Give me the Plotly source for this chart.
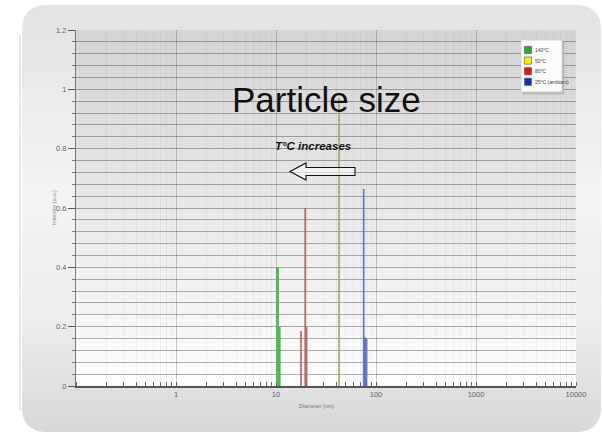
import numpy as np
import plotly.graph_objects as go

W, H = 602, 434

# Peak positions (nm) and scattered intensities (a.u.) per temperature
d_140 = [10.2, 10.5, 10.9]
i_140 = [0.40, 0.40, 0.20]
d_50 = [42.7]
i_50 = [0.97]
d_80 = [17.8, 19.6, 20.2]
i_80 = [0.185, 0.60, 0.20]
d_25 = [75.3, 76.5, 78.5, 80.5]
i_25 = [0.664, 0.165, 0.163, 0.158]

series_names = ["140°C", "50°C", "80°C", "25°C (ambiant)"]
line_colors = ["#4fb64f", "#aaa85c", "#b8676a", "#6675c6"]
swatch_colors = ["#22b022", "#f2f200", "#e01818", "#1a2bc0"]
series_d = [d_140, d_50, d_80, d_25]
series_i = [i_140, i_50, i_80, i_25]

x_ticks = [1, 10, 100, 1000, 10000]
x_ticktext = ["1", "10", "100", "1000", "10000"]

FONT = "Liberation Sans Narrow, Liberation Sans, Arial"


def px(x, y):
    """pixel position -> paper coordinates (margins are zero)"""
    return x / W, 1 - y / H


def rounded_rect(x0, y0, x1, y1, r, n=12):
    xs, ys = [], []
    corners = [(x1 - r, y0 + r, -90, 0), (x1 - r, y1 - r, 0, 90),
               (x0 + r, y1 - r, 90, 180), (x0 + r, y0 + r, 180, 270)]
    for cx, cy, a0, a1 in corners:
        for a in np.radians(np.linspace(a0, a1, n)):
            xs.append(cx + r * np.cos(a))
            ys.append(cy + r * np.sin(a))
    xs.append(xs[0]); ys.append(ys[0])
    return xs, ys


fig = go.Figure()

# ---- panel background (pixel-space axes x/y) ----
px_, py_ = rounded_rect(22, 5, 601, 432, 22)
fig.add_trace(go.Scatter(
    x=px_, y=py_, fill="toself", mode="lines", line=dict(width=0),
    fillgradient=dict(type="vertical", start=432, stop=5,
                      colorscale=[[0, "#d8d8d8"], [0.25, "#ececec"],
                                  [0.55, "#f4f4f4"], [1, "#e3e3e3"]]),
    hoverinfo="skip", showlegend=False, xaxis="x", yaxis="y"))

# plot-area gradient
fig.add_trace(go.Scatter(
    x=[76, 576, 576, 76, 76], y=[30, 30, 386, 386, 30], fill="toself",
    mode="lines", line=dict(width=0),
    fillgradient=dict(type="vertical", start=386, stop=30,
                      colorscale=[[0, "#fdfdfd"], [0.5, "#e9e9e9"],
                                  [1, "#d4d4d4"]]),
    hoverinfo="skip", showlegend=False, xaxis="x", yaxis="y"))

# ---- peaks as thin vertical lines (chart axes x2/y2) ----
for name, col, ds, vals in zip(series_names, line_colors, series_d, series_i):
    xs, ys = [], []
    for d, v in zip(ds, vals):
        xs += [d, d, None]
        ys += [0, v, None]
    fig.add_trace(go.Scatter(x=xs, y=ys, mode="lines", name=name,
                             line=dict(color=col, width=1.7),
                             showlegend=False, xaxis="x2", yaxis="y2"))

shapes = []
annotations = []

# left shadow edge of panel
x0, y0 = px(20, 35)
x1, y1 = px(20, 410)
shapes.append(dict(type="line", xref="paper", yref="paper", x0=x0, y0=y0,
                   x1=x1, y1=y1, line=dict(color="#d4d4d4", width=1)))

# hollow arrow pointing to smaller sizes
arrow_pts = [(290, 171.5), (306, 163), (306, 167.5), (355, 167.5),
             (355, 175.5), (306, 175.5), (306, 180)]
path = "M " + " L ".join("%.5f,%.5f" % px(x, y) for x, y in arrow_pts) + " Z"
shapes.append(dict(type="path", xref="paper", yref="paper", path=path,
                   fillcolor="rgba(255,255,255,0.55)",
                   line=dict(color="#111111", width=1.1)))

# legend box with drop shadow
lx0, ly0, lx1, ly1 = 521, 40, 562, 92
for off, fc, lc in [(2, "#b8b8b8", "#b8b8b8"), (0, "#fbfbfb", "#cfcfcf")]:
    a0, b0 = px(lx0 + off, ly0 + off)
    a1, b1 = px(lx1 + off, ly1 + off)
    shapes.append(dict(type="rect", xref="paper", yref="paper", x0=a0, y0=b0,
                       x1=a1, y1=b1, fillcolor=fc, line=dict(color=lc, width=0.8)))
for k, (name, sc) in enumerate(zip(series_names, swatch_colors)):
    cy = 50 + k * 10.6
    a0, b0 = px(524.5, cy - 3.6)
    a1, b1 = px(531.5, cy + 3.6)
    shapes.append(dict(type="rect", xref="paper", yref="paper", x0=a0, y0=b0,
                       x1=a1, y1=b1, fillcolor=sc, line=dict(color="#555", width=0.6)))
    tx, ty = px(533, cy)
    annotations.append(dict(x=tx, y=ty, xref="paper", yref="paper", text=name,
                            showarrow=False, xanchor="left", yanchor="middle",
                            font=dict(family=FONT, size=5, color="#444")))

# titles and labels
tx, ty = px(326, 78)
annotations.append(dict(x=tx, y=ty, xref="paper", yref="paper",
                        text="Particle size", showarrow=False,
                        font=dict(family=FONT, size=35, color="#111")))
tx, ty = px(313, 146)
annotations.append(dict(x=tx, y=ty, xref="paper", yref="paper",
                        text="<b><i>T°C increases</i></b>", showarrow=False,
                        font=dict(family=FONT, size=11.5, color="#111")))
tx, ty = px(317, 411)
annotations.append(dict(x=tx, y=ty, xref="paper", yref="paper",
                        text="Diameter (nm)", showarrow=False,
                        font=dict(family=FONT, size=5.5, color="#777")))
tx, ty = px(49, 208)
annotations.append(dict(x=tx, y=ty, xref="paper", yref="paper",
                        text="Intensity (a.u.)", showarrow=False, textangle=-90,
                        font=dict(family=FONT, size=5.5, color="#888")))

fig.update_layout(
    width=W, height=H,
    margin=dict(l=0, r=0, t=0, b=0, autoexpand=False),
    paper_bgcolor="white",
    plot_bgcolor="rgba(0,0,0,0)",
    showlegend=False,
    shapes=shapes,
    annotations=annotations,
    xaxis=dict(domain=[0, 1], range=[0, W], visible=False, fixedrange=True,
               automargin=False),
    yaxis=dict(domain=[0, 1], range=[H, 0], visible=False, fixedrange=True,
               automargin=False),
    xaxis2=dict(
        type="log", range=[-1, 4], anchor="y2", automargin=False,
        domain=[76 / W, 576 / W],
        tickvals=x_ticks, ticktext=x_ticktext,
        ticks="", showgrid=True, gridcolor="rgba(0,0,0,0.16)", gridwidth=1,
        showline=True, linecolor="#555", linewidth=1.5,
        tickfont=dict(family=FONT, size=7.5, color="#666"),
        minor=dict(dtick="D1", ticks="inside", ticklen=4, tickcolor="#666",
                   showgrid=True, gridcolor="rgba(0,0,0,0.045)", gridwidth=1),
        zeroline=False,
    ),
    yaxis2=dict(
        range=[0, 1.2], anchor="x2", automargin=False,
        domain=[1 - 386 / H, 1 - 30 / H],
        dtick=0.2, ticks="outside", ticklen=7, tickcolor="#555",
        showgrid=True, gridcolor="rgba(0,0,0,0.3)", gridwidth=1.2,
        showline=True, linecolor="#777", linewidth=1,
        tickfont=dict(family=FONT, size=7.5, color="#666"),
        minor=dict(dtick=0.04, ticks="outside", ticklen=3, tickcolor="#777",
                   showgrid=True, gridcolor="rgba(0,0,0,0.3)", gridwidth=1.2),
        zeroline=False,
    ),
)

fig.write_html("out.html")
